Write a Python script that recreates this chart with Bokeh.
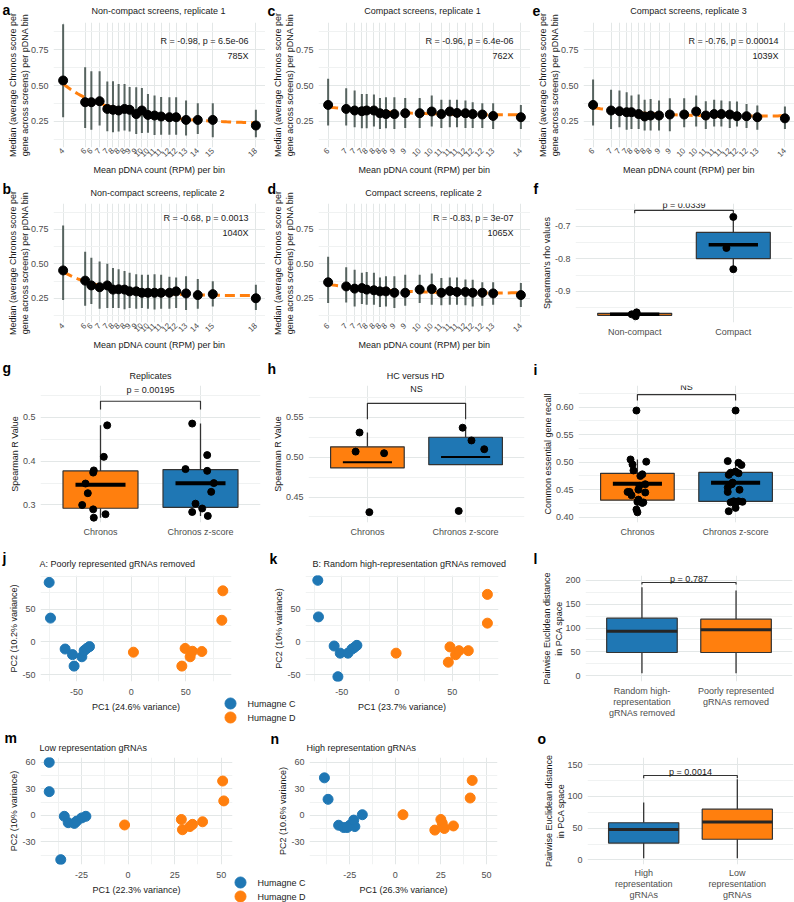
import numpy as np
from bokeh.plotting import figure
from bokeh.layouts import row, column
from bokeh.models import (FixedTicker, Label, Range1d, NumeralTickFormatter, AllLabels, GridBox)
from bokeh.embed import file_html
from bokeh.resources import INLINE

FONT = "Liberation Sans"
ORANGE = "#FF7F0E"
BLUE = "#1F77B4"
GRID = "#E3E7E7"
MINOR = "#F0F2F2"
TICKC = "#4D4D4D"
TEXT = "#1A1A1A"
ERR = "#56635F"
BOXLINE = "#333333"

# ---------------- data: panels a-e (binned medians) ----------------
ab_bin_mean = [4.0, 5.6, 6.05, 6.65, 7.21, 7.62, 8.03, 8.46, 8.83, 9.31, 9.72, 10.16,
               10.64, 11.12, 11.72, 12.21, 12.93, 13.78, 14.87, 18.0]
ab_tick_labels = ["4", "6", "6", "7", "7", "8", "8", "8", "9", "9", "10", "10",
                  "11", "11", "12", "12", "13", "14", "15", "18"]
cde_bin_mean = [6.0, 6.75, 7.1, 7.4, 7.6, 7.9, 8.15, 8.4, 8.75, 9.2, 9.8, 10.3,
                10.7, 11.05, 11.35, 11.7, 12.0, 12.4, 12.85, 14.0]
cde_tick_labels = ["6", "7", "7", "7", "8", "8", "8", "8", "9", "9", "10", "10",
                   "11", "11", "11", "12", "12", "12", "13", "14"]

a_med = [0.535, 0.383, 0.383, 0.39, 0.336, 0.33, 0.325, 0.336, 0.33, 0.30, 0.325, 0.294,
         0.29, 0.283, 0.278, 0.278, 0.259, 0.259, 0.259, 0.22]
a_lo = [0.278, 0.203, 0.19, 0.22, 0.18, 0.173, 0.178, 0.185, 0.178, 0.16, 0.168, 0.17,
        0.154, 0.156, 0.156, 0.156, 0.15, 0.16, 0.138, 0.138]
a_hi = [0.928, 0.628, 0.60, 0.60, 0.528, 0.53, 0.51, 0.51, 0.49, 0.488, 0.483, 0.44,
        0.43, 0.42, 0.418, 0.418, 0.395, 0.376, 0.376, 0.33]

b_med = [0.452, 0.378, 0.343, 0.33, 0.343, 0.313, 0.315, 0.313, 0.30, 0.30, 0.29, 0.29,
         0.29, 0.29, 0.29, 0.30, 0.285, 0.273, 0.28, 0.25]
b_lo = [0.238, 0.196, 0.208, 0.173, 0.18, 0.18, 0.18, 0.17, 0.18, 0.173, 0.18, 0.173,
        0.168, 0.173, 0.173, 0.18, 0.164, 0.173, 0.19, 0.164]
b_hi = [0.778, 0.587, 0.545, 0.517, 0.50, 0.47, 0.46, 0.448, 0.436, 0.424, 0.42, 0.42,
        0.424, 0.42, 0.406, 0.40, 0.41, 0.39, 0.373, 0.348]

c_med = [0.364, 0.336, 0.325, 0.32, 0.325, 0.325, 0.306, 0.30, 0.30, 0.306, 0.306, 0.318,
         0.30, 0.318, 0.308, 0.306, 0.30, 0.297, 0.287, 0.278]
c_lo = [0.22, 0.22, 0.208, 0.2, 0.2, 0.213, 0.196, 0.2, 0.196, 0.203, 0.203, 0.213,
        0.203, 0.208, 0.208, 0.203, 0.203, 0.203, 0.196, 0.196]
c_hi = [0.547, 0.48, 0.465, 0.44, 0.44, 0.437, 0.413, 0.418, 0.418, 0.413, 0.413, 0.43,
        0.40, 0.40, 0.40, 0.395, 0.383, 0.376, 0.376, 0.364]

d_med = [0.366, 0.336, 0.32, 0.324, 0.313, 0.308, 0.30, 0.30, 0.29, 0.29, 0.313, 0.317,
         0.29, 0.303, 0.296, 0.296, 0.29, 0.29, 0.285, 0.273]
d_lo = [0.215, 0.22, 0.19, 0.208, 0.203, 0.203, 0.187, 0.19, 0.18, 0.196, 0.215, 0.203,
        0.2, 0.203, 0.203, 0.2, 0.19, 0.196, 0.203, 0.187]
d_hi = [0.552, 0.476, 0.457, 0.436, 0.44, 0.436, 0.40, 0.41, 0.41, 0.42, 0.42, 0.43,
        0.397, 0.40, 0.40, 0.387, 0.385, 0.366, 0.366, 0.36]

e_med = [0.364, 0.325, 0.32, 0.313, 0.313, 0.30, 0.283, 0.29, 0.29, 0.297, 0.297, 0.318,
         0.29, 0.30, 0.30, 0.297, 0.285, 0.285, 0.278, 0.27]
e_lo = [0.22, 0.196, 0.208, 0.19, 0.196, 0.196, 0.185, 0.185, 0.185, 0.18, 0.208, 0.213,
        0.196, 0.213, 0.213, 0.203, 0.213, 0.203, 0.19, 0.196]
e_hi = [0.542, 0.47, 0.465, 0.453, 0.43, 0.437, 0.40, 0.406, 0.395, 0.41, 0.41, 0.43,
        0.39, 0.40, 0.395, 0.39, 0.388, 0.37, 0.36, 0.353]

# ---------------- data: f ----------------
f_cats = ["Non-compact", "Compact"]
f_noncompact = [-0.964, -0.970, -0.976]
f_noncompact_jit = [0.02, -0.03, 0.01]
f_compact = [-0.672, -0.767, -0.832]
f_compact_jit = [0.0, -0.07, 0.0]

# ---------------- data: g, h, i ----------------
gh_cats = ["Chronos", "Chronos z-score"]
g_chronos = [0.482, 0.41, 0.379, 0.374, 0.349, 0.327, 0.30, 0.29, 0.279, 0.271]
g_chronos_jit = [0.067, 0.033, -0.067, -0.073, -0.15, -0.127, -0.183, -0.073, 0.05, -0.067]
g_zscore = [0.486, 0.414, 0.382, 0.378, 0.35, 0.33, 0.303, 0.292, 0.284, 0.275]
g_zscore_jit = [-0.083, 0.067, -0.15, 0.067, 0.133, 0.107, -0.05, 0.017, -0.083, 0.073]

h_chronos = [0.531, 0.507, 0.505, 0.431]
h_chronos_jit = [-0.08, -0.12, 0.17, 0.02]
h_zscore = [0.537, 0.521, 0.51, 0.4325]
h_zscore_jit = [-0.03, 0.06, 0.19, -0.07]

i_chronos = [0.594, 0.505, 0.501, 0.496, 0.485, 0.478, 0.475, 0.46, 0.457, 0.45,
             0.446, 0.446, 0.445, 0.44, 0.432, 0.428, 0.427, 0.426, 0.414, 0.409]
i_chronos_jit = [-0.01, -0.07, 0.09, -0.05, -0.04, 0.05, 0.03, 0.08, 0.02, 0.01,
                 -0.08, -0.10, 0.08, -0.06, 0.01, 0.0, 0.06, 0.05, -0.01, 0.0]
i_zscore = [0.594, 0.502, 0.499, 0.495, 0.481, 0.477, 0.463, 0.454, 0.483, 0.48,
            0.446, 0.428, 0.427, 0.429, 0.429, 0.426, 0.417, 0.411, 0.45, 0.46]
i_zscore_jit = [0.0, -0.08, 0.03, 0.06, -0.05, -0.07, -0.03, -0.08, 0.0, 0.03,
                -0.08, 0.07, -0.05, 0.03, -0.02, 0.0, 0.0, -0.07, 0.04, -0.04]

# ---------------- data: PCA panels ----------------
pca_groups = ["Humagne C", "Humagne D"]
j_c_pc1 = [-75.0, -73.8, -60.4, -53.7, -52.2, -45.1, -43.0, -40.6, -38.1]
j_c_pc2 = [90.6, 36.3, -10.8, -19.3, -36.8, -22.6, -13.2, -9.9, -7.1]
j_d_pc1 = [2.1, 49.4, 46.4, 54.0, 56.1, 64.7, 83.0, 83.9]
j_d_pc2 = [-15.6, -9.9, -36.8, -22.6, -14.2, -14.6, 33.0, 77.8]

k_c_pc1 = [-71.8, -71.2, -57.0, -51.5, -44.5, -40.9, -38.8, -36.4, -53.6]
k_c_pc2 = [93.8, 38.1, -6.2, -17.1, -17.1, -10.9, -8.6, -5.2, -52.9]
k_d_pc1 = [-0.9, 47.9, 46.4, 53.0, 56.1, 64.5, 81.8, 81.8]
k_d_pc2 = [-17.1, -7.6, -30.9, -19.5, -13.3, -13.3, 28.6, 72.4]

m_c_pc1 = [-42.4, -42.4, -36.2, -34.3, -32.2, -28.9, -27.6, -24.9, -22.7]
m_c_pc2 = [59.9, 26.8, -50.1, -1.1, -8.3, -9.1, -6.5, -2.9, -1.1]
m_d_pc1 = [-1.9, 28.6, 29.2, 33.2, 34.6, 40.0, 50.8, 51.4]
m_d_pc2 = [-10.9, -4.7, -16.3, -12.7, -10.2, -7.3, 38.8, 16.3]

n_c_pc1 = [-38.9, -36.9, -31.1, -28.3, -25.0, -22.2, -22.8, -18.1, -26.4]
n_c_pc2 = [42.4, 18.1, -11.2, -13.8, -11.2, -12.7, -5.4, 0.7, -13.8]
n_d_pc1 = [4.2, 21.7, 25.0, 25.8, 26.9, 31.9, 41.1, 42.2]
n_d_pc2 = [0.7, -16.7, -4.7, -9.1, -14.9, -12.0, 19.6, 39.5]

# ---------------- data: l, o (box statistics) ----------------
l_cats = ["Random high-\nrepresentation\ngRNAs removed", "Poorly represented\ngRNAs removed"]
l_q1 = [48.4, 48.4]
l_med = [93.3, 96.1]
l_q3 = [120.7, 118.6]
l_lo = [4.9, 4.9]
l_hi = [186.0, 179.0]

o_cats = ["High\nrepresentation\ngRNAs", "Low\nrepresentation\ngRNAs"]
o_q1 = [26.5, 32.5]
o_med = [48.0, 59.9]
o_q3 = [58.5, 80.0]
o_lo = [2.7, 2.7]
o_hi = [90.5, 127.1]


# ---------------- helpers ----------------
def mk(x0, y0, w, h, left, right, top, bottom, xr, yr, xlabel, ylabel):
    p = figure(width=w, height=h, x_range=Range1d(*xr), y_range=Range1d(*yr),
               output_backend="svg", toolbar_location=None, title=None,
               min_border_left=left, min_border_right=right,
               min_border_top=top, min_border_bottom=bottom)
    p.outline_line_color = None
    p.background_fill_color = "white"
    p.border_fill_color = "white"
    p.xaxis.axis_label = xlabel
    p.yaxis.axis_label = ylabel
    for ax in p.axis:
        ax.axis_line_color = None
        ax.major_tick_line_color = None
        ax.minor_tick_line_color = None
        ax.major_tick_out = 0
        ax.major_tick_in = 0
        ax.minor_tick_out = 0
        ax.minor_tick_in = 0
        ax.major_label_text_font = FONT
        ax.major_label_text_font_size = "9px"
        ax.major_label_text_color = TICKC
        ax.axis_label_text_font = FONT
        ax.axis_label_text_font_size = "9px"
        ax.axis_label_text_font_style = "normal"
        ax.axis_label_text_color = TEXT
        ax.major_label_policy = AllLabels()
    p.xaxis.major_label_standoff = 4
    p.xaxis.axis_label_standoff = 4
    p.yaxis.major_label_standoff = 5
    p.yaxis.axis_label_standoff = 0
    for gr in (p.xgrid, p.ygrid):
        gr.grid_line_color = GRID
        gr.grid_line_width = 1
        gr.minor_grid_line_color = MINOR
        gr.minor_grid_line_width = 1
    geo = {"fl": x0 + left, "fb": y0 + h - bottom}
    return p, geo


def set_ticks(p, dim, major, minor):
    # axis gets only the major breaks; the grid also draws minor lines
    ax = p.xaxis if dim == "x" else p.yaxis
    gr = p.xgrid if dim == "x" else p.ygrid
    ax.ticker = FixedTicker(ticks=major, minor_ticks=[])
    gr.ticker = FixedTicker(ticks=major, minor_ticks=minor)


def lab(p, g, ax_, ay_, text, align="right"):
    # text inside a panel's frame, positioned in page pixels
    p.add_layout(Label(x=ax_ - g["fl"], y=g["fb"] - ay_, x_units="screen", y_units="screen",
                       text=text, text_font=FONT, text_font_size="9px",
                       text_align=align, text_baseline="middle", text_color=TEXT))


def expand(vals, frac=0.05):
    lo, hi = min(vals), max(vals)
    s = hi - lo
    return (lo - frac * s, hi + frac * s)


def yticks(p, major, minor, fmt):
    set_ticks(p, "y", major, minor)
    p.yaxis.formatter = NumeralTickFormatter(format=fmt)


def line_panel(x0, y0, w, h, top, bottom, yr, xs, tlabels, med, lo, hi):
    xr = expand(xs)
    p, g = mk(x0, y0, w, h, 53, 0, top, bottom, xr, yr,
              "Mean pDNA count (RPM) per bin",
              "Median (average Chronos score per\ngene across screens) per pDNA bin")
    set_ticks(p, "x", xs, [])
    p.xaxis.major_label_overrides = {float(x): t for x, t in zip(xs, tlabels)}
    p.xaxis.major_label_orientation = np.pi / 4
    p.xaxis.major_label_text_font_size = "8px"
    p.xaxis.major_label_standoff = 2
    p.xaxis.axis_label_standoff = 3
    p.yaxis.axis_label_standoff = -2
    yticks(p, [0.25, 0.5, 0.75], [0.125, 0.375, 0.625, 0.875], "0.00")
    p.segment(x0=xs, y0=lo, x1=xs, y1=hi, line_color=ERR, line_width=2)
    lx = np.log(np.asarray(xs))
    coef = np.polyfit(lx, np.asarray(med), 2)
    fx = np.linspace(min(xs), max(xs), 80)
    p.line(fx, np.polyval(coef, np.log(fx)), line_color=ORANGE, line_width=3,
           line_dash="10 5")
    p.scatter(xs, med, size=9, fill_color="black", line_color="black")
    return p, g


def box_stats(vals):
    v = np.asarray(vals, dtype=float)
    q1, md, q3 = np.percentile(v, [25, 50, 75])
    iqr = q3 - q1
    lo = v[v >= q1 - 1.5 * iqr].min()
    hi = v[v <= q3 + 1.5 * iqr].max()
    return q1, md, q3, lo, hi, v.mean()


def draw_box(p, xpos, q1, q3, lo, hi, color):
    p.segment(x0=[xpos, xpos], y0=[q3, q1], x1=[xpos, xpos], y1=[hi, lo],
              line_color=BOXLINE, line_width=1.3)
    p.vbar(x=[xpos], width=0.75, bottom=[q1], top=[q3], fill_color=color,
           line_color=BOXLINE, line_width=1.2)


def point_box(p, xpos, vals, jit, color, mean_w):
    q1, md, q3, lo, hi, mn = box_stats(vals)
    draw_box(p, xpos, q1, q3, lo, hi, color)
    p.segment(x0=[xpos - 0.25], y0=[mn], x1=[xpos + 0.25], y1=[mn],
              line_color="black", line_width=mean_w)
    p.scatter([xpos + j for j in jit], vals, size=7, fill_color="black", line_color="black")


def bracket(p, y, tip, text, ty, lw=1.2):
    p.line([1, 1, 2, 2], [tip, y, y, tip], line_color=BOXLINE, line_width=lw)
    p.add_layout(Label(x=1.5, y=ty, text=text, text_font=FONT, text_font_size="9px",
                       text_align="center", text_baseline="middle", text_color=TEXT))


def cat_axis(p, cats):
    set_ticks(p, "x", [1, 2], [])
    p.xaxis.major_label_overrides = {1: cats[0], 2: cats[1]}


def pca_ticks(p, xmaj, xmin, ymaj, ymin):
    set_ticks(p, "x", xmaj, xmin)
    set_ticks(p, "y", ymaj, ymin)
    p.xaxis.formatter = NumeralTickFormatter(format="0")
    p.yaxis.formatter = NumeralTickFormatter(format="0")
    p.xaxis.major_label_standoff = 7
    p.xaxis.axis_label_standoff = 4


# ---------------- row A: a, c, e ----------------
YR_A = (0.066, 0.941)
pa, ga = line_panel(0, 0, 265, 181, 22, 34, YR_A, ab_bin_mean, ab_tick_labels, a_med, a_lo, a_hi)
lab(pa, ga, 248, 40, "R = -0.98, p = 6.5e-06")
lab(pa, ga, 248, 55, "785X")

pc, gc = line_panel(265, 0, 265, 181, 22, 34, YR_A, cde_bin_mean, cde_tick_labels, c_med, c_lo, c_hi)
lab(pc, gc, 513, 40, "R = -0.96, p = 6.4e-06")
lab(pc, gc, 513, 55, "762X")

pe, ge = line_panel(530, 0, 264, 181, 22, 34, YR_A, cde_bin_mean, cde_tick_labels, e_med, e_lo, e_hi)
lab(pe, ge, 778, 40, "R = -0.76, p = 0.00014")
lab(pe, ge, 778, 55, "1039X")

# ---------------- row B: b, d, f ----------------
YR_B = (0.074, 0.938)
pb, gb = line_panel(0, 181, 265, 179, 22, 33, YR_B, ab_bin_mean, ab_tick_labels, b_med, b_lo, b_hi)
lab(pb, gb, 248, 222, "R = -0.68, p = 0.0013")
lab(pb, gb, 248, 237, "1040X")

pd_, gd = line_panel(265, 181, 265, 179, 22, 33, YR_B, cde_bin_mean, cde_tick_labels, d_med, d_lo, d_hi)
lab(pd_, gd, 513, 222, "R = -0.83, p = 3e-07")
lab(pd_, gd, 513, 237, "1065X")

pf, gf = mk(530, 181, 264, 179, 45, 2, 22, 38, (0.4, 2.6), (-0.995, -0.631), "", "Spearman's rho values")
cat_axis(pf, f_cats)
yticks(pf, [-0.9, -0.8, -0.7], [-0.95, -0.85, -0.75, -0.65], "0.0")
point_box(pf, 1, f_noncompact, f_noncompact_jit, ORANGE, 3.5)
point_box(pf, 2, f_compact, f_compact_jit, BLUE, 3.5)
bracket(pf, -0.652, -0.661, "p = 0.0339", -0.637)

# ---------------- row C: g, h, i ----------------
pg, gg = mk(0, 360, 265, 180, 40, 5, 25, 18, (0.4, 2.6), (0.26, 0.573), "", "Spearman R Value")
cat_axis(pg, gh_cats)
yticks(pg, [0.3, 0.4, 0.5], [0.35, 0.45, 0.55], "0.0")
point_box(pg, 1, g_chronos, g_chronos_jit, ORANGE, 4)
point_box(pg, 2, g_zscore, g_zscore_jit, BLUE, 4)
bracket(pg, 0.537, 0.518, "p = 0.00195", 0.562)

ph, gh = mk(265, 360, 265, 180, 43, 6, 25, 18, (0.4, 2.6), (0.418, 0.590), "", "Spearman R Value")
cat_axis(ph, gh_cats)
yticks(ph, [0.45, 0.5, 0.55], [0.425, 0.475, 0.525, 0.575], "0.00")
point_box(ph, 1, h_chronos, h_chronos_jit, ORANGE, 2)
point_box(ph, 2, h_zscore, h_zscore_jit, BLUE, 2)
bracket(ph, 0.5676, 0.5475, "NS", 0.586)

pi_, gi = mk(530, 360, 264, 180, 48, 0, 25, 18, (0.4, 2.6), (0.3904, 0.6395), "",
             "Common essential gene recall")
cat_axis(pi_, gh_cats)
yticks(pi_, [0.40, 0.45, 0.50, 0.55, 0.60], [0.425, 0.475, 0.525, 0.575, 0.625], "0.00")
point_box(pi_, 1, i_chronos, i_chronos_jit, ORANGE, 4)
point_box(pi_, 2, i_zscore, i_zscore_jit, BLUE, 4)
bracket(pi_, 0.623, 0.612, "NS", 0.637)

# ---------------- row D: j, k, l ----------------
JK_X = expand(j_c_pc1 + j_d_pc1 + k_c_pc1 + k_d_pc1)
JK_Y = expand(j_c_pc2 + j_d_pc2 + k_c_pc2 + k_d_pc2)

pj, gj = mk(0, 540, 265, 184, 40, 34, 35, 36, JK_X, JK_Y, "PC1 (24.6% variance)", "PC2 (10.2% variance)")
pca_ticks(pj, [-50, 0, 50], [-75, -25, 25, 75], [-50, 0, 50], [-25, 25, 75, 100])
pj.scatter(j_c_pc1, j_c_pc2, size=10, fill_color=BLUE, line_color=BLUE)
pj.scatter(j_d_pc1, j_d_pc2, size=10, fill_color=ORANGE, line_color=ORANGE)

pk, gk = mk(265, 540, 265, 184, 40, 32, 35, 36, JK_X, JK_Y, "PC1 (23.7% variance)", "PC2 (10% variance)")
pca_ticks(pk, [-50, 0, 50], [-75, -25, 25, 75], [-50, 0, 50], [-25, 25, 75, 100])
pk.scatter(k_c_pc1, k_c_pc2, size=10, fill_color=BLUE, line_color=BLUE)
pk.scatter(k_d_pc1, k_d_pc2, size=10, fill_color=ORANGE, line_color=ORANGE)

pl, gl = mk(530, 540, 264, 184, 55, 2, 35, 43, (0.4, 2.6), (-12.6, 210.5), "",
            "Pairwise Euclidean distance\nin PCA space")
cat_axis(pl, l_cats)
pl.xaxis.major_label_text_line_height = 1.1
pl.yaxis.axis_label_standoff = -2
yticks(pl, [0, 50, 100, 150, 200], [25, 75, 125, 175], "0")
for i_, col in enumerate([BLUE, ORANGE]):
    draw_box(pl, i_ + 1, l_q1[i_], l_q3[i_], l_lo[i_], l_hi[i_], col)
pl.segment(x0=[0.625, 1.625], y0=l_med, x1=[1.375, 2.375], y1=l_med, line_color="#262626", line_width=3)
bracket(pl, 195.8, 191.6, "p = 0.787", 203.5)

# ---------------- row E: m, n, o ----------------
MN_X = expand(m_c_pc1 + m_d_pc1 + n_c_pc1 + n_d_pc1)
MN_Y = expand(m_c_pc2 + m_d_pc2 + n_c_pc2 + n_d_pc2)

pm, gm = mk(0, 724, 265, 178, 40, 33, 33, 34, MN_X, MN_Y, "PC1 (22.3% variance)", "PC2 (10% variance)")
pca_ticks(pm, [-25, 0, 25, 50], [-37.5, -12.5, 12.5, 37.5], [-30, 0, 30, 60], [-45, -15, 15, 45])
pm.scatter(m_c_pc1, m_c_pc2, size=10, fill_color=BLUE, line_color=BLUE)
pm.scatter(m_d_pc1, m_d_pc2, size=10, fill_color=ORANGE, line_color=ORANGE)

pn, gn = mk(265, 724, 265, 178, 44, 33, 33, 34, MN_X, MN_Y, "PC1 (26.3% variance)", "PC2 (10.6% variance)")
pca_ticks(pn, [-25, 0, 25, 50], [-37.5, -12.5, 12.5, 37.5], [-30, 0, 30, 60], [-45, -15, 15, 45])
pn.scatter(n_c_pc1, n_c_pc2, size=10, fill_color=BLUE, line_color=BLUE)
pn.scatter(n_d_pc1, n_d_pc2, size=10, fill_color=ORANGE, line_color=ORANGE)

po, go = mk(530, 724, 264, 178, 57, 1, 21, 34, (0.4, 2.6), (-7.3, 161.4), "",
            "Pairwise Euclidean distance\nin PCA space")
cat_axis(po, o_cats)
po.xaxis.major_label_text_line_height = 1.1
po.xaxis.major_label_standoff = 3
po.yaxis.axis_label_standoff = -2
yticks(po, [0, 50, 100, 150], [25, 75, 125], "0")
for i_, col in enumerate([BLUE, ORANGE]):
    draw_box(po, i_ + 1, o_q1[i_], o_q3[i_], o_lo[i_], o_hi[i_], col)
po.segment(x0=[0.625, 1.625], y0=o_med, x1=[1.375, 2.375], y1=o_med, line_color="#262626", line_width=3)
bracket(po, 133.0, 128.5, "p = 0.0014", 138.5)

# ---------------- overlay (page pixels): panel letters, panel titles, shared legends ----------------
ov = figure(width=794, height=902, x_range=Range1d(0, 794), y_range=Range1d(902, 0),
            output_backend="svg", toolbar_location=None, title=None,
            x_axis_location=None, y_axis_location=None,
            min_border_left=0, min_border_right=0, min_border_top=0, min_border_bottom=0)
ov.outline_line_color = None
ov.background_fill_color = None
ov.border_fill_color = None
ov.grid.visible = False

panel_letters = [("a", 2, 9), ("c", 267, 10), ("e", 532, 10),
                 ("b", 2, 188), ("d", 267, 188), ("f", 533, 188),
                 ("g", 2, 367), ("h", 267, 368), ("i", 533, 369),
                 ("j", 2, 557), ("k", 269, 558), ("l", 533, 558),
                 ("m", 4, 737), ("n", 270, 738), ("o", 537, 738)]
for t, x, y in panel_letters:
    ov.add_layout(Label(x=x, y=y, text=t, text_font=FONT, text_font_size="14px",
                        text_font_style="bold", text_align="left",
                        text_baseline="alphabetic", text_color="black"))

panel_titles = [("Non-compact screens, replicate 1", 158, 10, "center"),
                ("Compact screens, replicate 1", 422, 10, "center"),
                ("Compact screens, replicate 3", 688, 10, "center"),
                ("Non-compact screens, replicate 2", 157, 192, "center"),
                ("Compact screens, replicate 2", 423, 192, "center"),
                ("Replicates", 150, 375, "center"),
                ("HC versus HD", 415, 375, "center"),
                ("A: Poorly represented gRNAs removed", 39, 563, "left"),
                ("B: Random high-representation gRNAs removed", 312, 563, "left"),
                ("Low representation gRNAs", 39, 747, "left"),
                ("High representation gRNAs", 306, 747, "left")]
for t, x, y, al in panel_titles:
    ov.add_layout(Label(x=x, y=y, text=t, text_font=FONT, text_font_size="9px",
                        text_align=al, text_baseline="middle", text_color=TEXT))

# legend keys (page pixel positions of the two shared legends)
legend_spots = [(230, 703), (240, 882)]
for lx, ly in legend_spots:
    ov.scatter([lx, lx], [ly, ly + 14], size=11, fill_color=[BLUE, ORANGE], line_color=[BLUE, ORANGE])
    for k_, grp in enumerate(pca_groups):
        ov.add_layout(Label(x=lx + 17, y=ly + 14 * k_, text=grp, text_font=FONT,
                            text_font_size="9px", text_align="left", text_baseline="middle",
                            text_color=TEXT))

main = column(row(pa, pc, pe), row(pb, pd_, pf), row(pg, ph, pi_),
              row(pj, pk, pl), row(pm, pn, po))
layout = GridBox(children=[(main, 0, 0), (ov, 0, 0)])
open("out.html", "w").write(file_html(layout, INLINE))
